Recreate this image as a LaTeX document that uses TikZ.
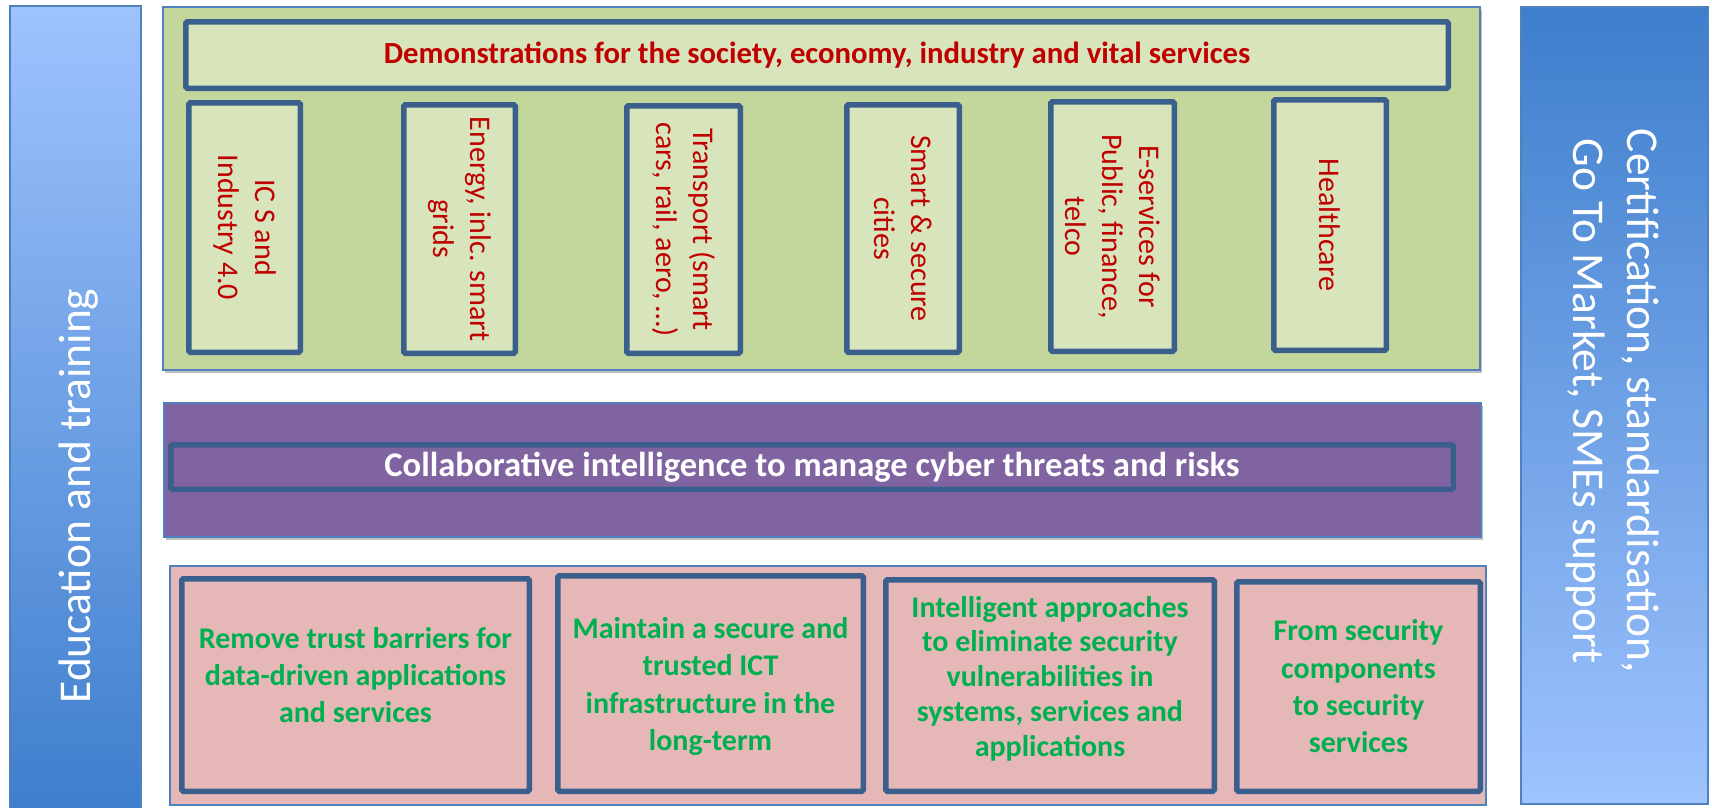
\documentclass[tikz,border=0pt]{standalone}
\usepackage{fontspec}
\setmainfont{Carlito}
\usetikzlibrary{shadows}
\definecolor{panelborder}{HTML}{4F81BD}
\definecolor{boxborder}{HTML}{3A5F8C}
\definecolor{greenfill}{HTML}{C3D69B}
\definecolor{greenbox}{HTML}{D8E4BC}
\definecolor{redtext}{HTML}{C00000}
\definecolor{purplefill}{HTML}{8064A2}
\definecolor{pinkfill}{HTML}{E5B8B7}
\definecolor{greentext}{HTML}{00B050}
\definecolor{barlight}{HTML}{9EC3FE}
\definecolor{bardark}{HTML}{3E7ECC}
\tikzset{
  panel/.style={draw=panelborder, line width=2pt, inner sep=0pt, outer sep=0pt, rectangle},
  pshadow/.style={drop shadow={shadow xshift=1.5pt, shadow yshift=-3pt, opacity=0.25, fill=black}},
  thickbox/.style={draw=boxborder, line width=5.5pt, rounded corners=1.5pt, inner sep=0pt, outer sep=0pt, rectangle},
  redlabel/.style={text=redtext, align=center, rotate=-90, font=\fontsize{30}{37}\selectfont},
  greenlabel/.style={text=greentext, align=center, font=\fontsize{30}{37.3}\selectfont\bfseries},
  barlabel/.style={text=white, align=center, font=\fontsize{45.5}{54}\selectfont},
}
\begin{document}
\begin{tikzpicture}[x=1pt,y=-1pt]
\path[use as bounding box] (0,0) rectangle (1712,807);
\clip (0,0) rectangle (1712,807);
\fill[white] (0,0) rectangle (1712,807);

% side bars
\node[panel, top color=barlight, bottom color=bardark, minimum width=131, minimum height=806] (edu) at (75.5,409) {};
\node[barlabel, rotate=90, anchor=base] (edut) at (90,496) {Education and training};
\node[panel, top color=bardark, bottom color=barlight, minimum width=187, minimum height=797] (cert) at (1614.5,405.5) {};
\node[barlabel, rotate=-90] (certt) at (1613,401) {Certification, standardisation,\\Go To Market, SMEs support};

% green panel
\node[panel, pshadow, fill=greenfill, minimum width=1317, minimum height=363] (demo) at (821.5,188.5) {};
\node[thickbox, fill=greenbox, minimum width=1262.5, minimum height=66.5, text=redtext, font=\fontsize{30.7}{37}\selectfont\bfseries] (head) at (817,55) {Demonstrations for the society, economy, industry and vital services};

\node[thickbox, fill=greenbox, minimum width=111.5, minimum height=249.5] (ics) at (244.5,227.5) {};
\node[redlabel] (icst) at (ics.center) {IC S and\\Industry 4.0};
\node[thickbox, fill=greenbox, minimum width=111.5, minimum height=248.5] (energy) at (459.5,229) {};
\node[redlabel] (energyt) at (energy.center) {Energy, inlc. smart\\grids};
\node[thickbox, fill=greenbox, minimum width=113.5, minimum height=247.5] (transport) at (683.5,229.5) {};
\node[redlabel] (transportt) at (transport.center) {Transport (smart\\cars, rail, aero, …)};
\node[thickbox, fill=greenbox, minimum width=112.5, minimum height=247.5] (smart) at (903,228.5) {};
\node[redlabel] (smartt) at (smart.center) {Smart \& secure\\cities};
\node[thickbox, fill=greenbox, minimum width=123.5, minimum height=249.5] (eserv) at (1112.5,226.5) {};
\node[redlabel] (eservt) at (eserv.center) {E-services for\\Public, finance,\\telco};
\node[thickbox, fill=greenbox, minimum width=112.5, minimum height=250.5] (health) at (1330,225) {};
\node[redlabel] (healtht) at (health.center) {Healthcare};

% purple panel
\node[panel, pshadow, fill=purplefill, minimum width=1317, minimum height=134] (collabp) at (822.5,470) {};
\node[thickbox, fill=purplefill, minimum width=1282.5, minimum height=44.5, text=white, font=\fontsize{34.6}{40}\selectfont\bfseries] (collab) at (812,467) {Collaborative intelligence to manage cyber threats and risks};

% pink panel
\node[panel, fill=pinkfill, minimum width=1316, minimum height=239] (found) at (828,685.5) {};
\node[thickbox, fill=pinkfill, minimum width=347.5, minimum height=212.5] (b1) at (355.5,685) {};
\node[greenlabel] (b1t) at ([yshift=10pt]b1.center) {Remove trust barriers for\\data-driven applications\\and services};
\node[thickbox, fill=pinkfill, minimum width=305.5, minimum height=215.5] (b2) at (710.5,683.5) {};
\node[greenlabel] (b2t) at ([yshift=-3pt]b2.center) {Maintain a secure and\\trusted ICT\\infrastructure in the\\long-term};
\node[thickbox, fill=pinkfill, minimum width=328.5, minimum height=211.5] (b3) at (1050,685.5) {};
\node[greenlabel, font=\fontsize{30}{34.8}\selectfont\bfseries] (b3t) at ([yshift=7pt]b3.center) {Intelligent approaches\\to eliminate security\\vulnerabilities in\\systems, services and\\applications};
\node[thickbox, fill=pinkfill, minimum width=243.5, minimum height=209.5] (b4) at (1358.5,686.5) {};
\node[greenlabel] (b4t) at (b4.center) {From security\\components\\to security\\services};
\end{tikzpicture}
\end{document}
